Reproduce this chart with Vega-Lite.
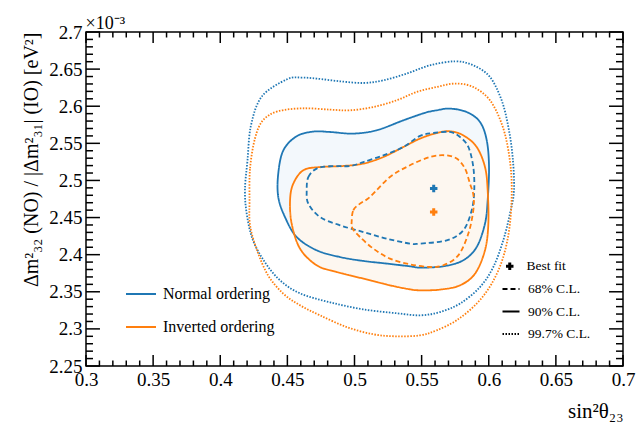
{
  "$schema": "https://vega.github.io/schema/vega-lite/v6.json",
  "width": 537,
  "height": 334,
  "autosize": {"type": "none"},
  "padding": {"left": 86, "top": 32, "right": 13, "bottom": 59},
  "config": {
    "view": {"stroke": "black", "strokeWidth": 1.5},
    "font": "Liberation Serif",
    "axis": {"grid": false, "domain": false, "ticks": false, "tickSize": 0, "labelColor": "black", "labelFont": "Liberation Serif", "titleFont": "Liberation Serif", "titleColor": "black", "titleFontWeight": "normal", "labelFlush": false, "labelOverlap": false, "labelBound": false},
    "legend": {"labelFont": "Liberation Serif", "labelColor": "black", "padding": 0}
  },
  "datasets": {
    "ticksX": [
      {"v": 0.3, "kind": "major"}, {"v": 0.35, "kind": "major"}, {"v": 0.4, "kind": "major"}, {"v": 0.45, "kind": "major"}, {"v": 0.5, "kind": "major"}, {"v": 0.55, "kind": "major"}, {"v": 0.6, "kind": "major"}, {"v": 0.65, "kind": "major"}, {"v": 0.7, "kind": "major"},
      {"v": 0.31, "kind": "minor"}, {"v": 0.32, "kind": "minor"}, {"v": 0.33, "kind": "minor"}, {"v": 0.34, "kind": "minor"},
      {"v": 0.36, "kind": "minor"}, {"v": 0.37, "kind": "minor"}, {"v": 0.38, "kind": "minor"}, {"v": 0.39, "kind": "minor"},
      {"v": 0.41, "kind": "minor"}, {"v": 0.42, "kind": "minor"}, {"v": 0.43, "kind": "minor"}, {"v": 0.44, "kind": "minor"},
      {"v": 0.46, "kind": "minor"}, {"v": 0.47, "kind": "minor"}, {"v": 0.48, "kind": "minor"}, {"v": 0.49, "kind": "minor"},
      {"v": 0.51, "kind": "minor"}, {"v": 0.52, "kind": "minor"}, {"v": 0.53, "kind": "minor"}, {"v": 0.54, "kind": "minor"},
      {"v": 0.56, "kind": "minor"}, {"v": 0.57, "kind": "minor"}, {"v": 0.58, "kind": "minor"}, {"v": 0.59, "kind": "minor"},
      {"v": 0.61, "kind": "minor"}, {"v": 0.62, "kind": "minor"}, {"v": 0.63, "kind": "minor"}, {"v": 0.64, "kind": "minor"},
      {"v": 0.66, "kind": "minor"}, {"v": 0.67, "kind": "minor"}, {"v": 0.68, "kind": "minor"}, {"v": 0.69, "kind": "minor"}
    ],
    "ticksY": [
      {"v": 2.25, "kind": "major"}, {"v": 2.3, "kind": "major"}, {"v": 2.35, "kind": "major"}, {"v": 2.4, "kind": "major"}, {"v": 2.45, "kind": "major"}, {"v": 2.5, "kind": "major"}, {"v": 2.55, "kind": "major"}, {"v": 2.6, "kind": "major"}, {"v": 2.65, "kind": "major"}, {"v": 2.7, "kind": "major"},
      {"v": 2.26, "kind": "minor"}, {"v": 2.27, "kind": "minor"}, {"v": 2.28, "kind": "minor"}, {"v": 2.29, "kind": "minor"},
      {"v": 2.31, "kind": "minor"}, {"v": 2.32, "kind": "minor"}, {"v": 2.33, "kind": "minor"}, {"v": 2.34, "kind": "minor"},
      {"v": 2.36, "kind": "minor"}, {"v": 2.37, "kind": "minor"}, {"v": 2.38, "kind": "minor"}, {"v": 2.39, "kind": "minor"},
      {"v": 2.41, "kind": "minor"}, {"v": 2.42, "kind": "minor"}, {"v": 2.43, "kind": "minor"}, {"v": 2.44, "kind": "minor"},
      {"v": 2.46, "kind": "minor"}, {"v": 2.47, "kind": "minor"}, {"v": 2.48, "kind": "minor"}, {"v": 2.49, "kind": "minor"},
      {"v": 2.51, "kind": "minor"}, {"v": 2.52, "kind": "minor"}, {"v": 2.53, "kind": "minor"}, {"v": 2.54, "kind": "minor"},
      {"v": 2.56, "kind": "minor"}, {"v": 2.57, "kind": "minor"}, {"v": 2.58, "kind": "minor"}, {"v": 2.59, "kind": "minor"},
      {"v": 2.61, "kind": "minor"}, {"v": 2.62, "kind": "minor"}, {"v": 2.63, "kind": "minor"}, {"v": 2.64, "kind": "minor"},
      {"v": 2.66, "kind": "minor"}, {"v": 2.67, "kind": "minor"}, {"v": 2.68, "kind": "minor"}, {"v": 2.69, "kind": "minor"}
    ],
    "info": [
      {"contour": "NO99", "ordering": "Normal ordering", "cl": "99.7% C.L."},
      {"contour": "IO99", "ordering": "Inverted ordering", "cl": "99.7% C.L."},
      {"contour": "NO90", "ordering": "Normal ordering", "cl": "90% C.L."},
      {"contour": "IO90", "ordering": "Inverted ordering", "cl": "90% C.L."},
      {"contour": "NO68", "ordering": "Normal ordering", "cl": "68% C.L."},
      {"contour": "IO68", "ordering": "Inverted ordering", "cl": "68% C.L."}
    ],
    "best": [
      {"ordering": "Normal ordering", "kind": "Best fit", "x": 0.559, "y": 2.489},
      {"ordering": "Inverted ordering", "kind": "Best fit", "x": 0.559, "y": 2.4575}
    ],
    "contours": [
      {"contour": "NO99", "i": 1, "x": 0.4184, "y": 2.4867},
      {"contour": "NO99", "i": 2, "x": 0.4203, "y": 2.5271},
      {"contour": "NO99", "i": 3, "x": 0.4229, "y": 2.5743},
      {"contour": "NO99", "i": 4, "x": 0.4311, "y": 2.6134},
      {"contour": "NO99", "i": 5, "x": 0.4497, "y": 2.6363},
      {"contour": "NO99", "i": 6, "x": 0.4607, "y": 2.6386},
      {"contour": "NO99", "i": 7, "x": 0.4718, "y": 2.6372},
      {"contour": "NO99", "i": 8, "x": 0.4892, "y": 2.6336},
      {"contour": "NO99", "i": 9, "x": 0.5066, "y": 2.6313},
      {"contour": "NO99", "i": 10, "x": 0.5215, "y": 2.6349},
      {"contour": "NO99", "i": 11, "x": 0.5389, "y": 2.644},
      {"contour": "NO99", "i": 12, "x": 0.5562, "y": 2.6551},
      {"contour": "NO99", "i": 13, "x": 0.5749, "y": 2.6605},
      {"contour": "NO99", "i": 14, "x": 0.5885, "y": 2.6551},
      {"contour": "NO99", "i": 15, "x": 0.6009, "y": 2.6394},
      {"contour": "NO99", "i": 16, "x": 0.6096, "y": 2.608},
      {"contour": "NO99", "i": 17, "x": 0.6146, "y": 2.572},
      {"contour": "NO99", "i": 18, "x": 0.6178, "y": 2.5316},
      {"contour": "NO99", "i": 19, "x": 0.6188, "y": 2.4867},
      {"contour": "NO99", "i": 20, "x": 0.6158, "y": 2.4553},
      {"contour": "NO99", "i": 21, "x": 0.6108, "y": 2.4193},
      {"contour": "NO99", "i": 22, "x": 0.6034, "y": 2.3834},
      {"contour": "NO99", "i": 23, "x": 0.5935, "y": 2.3564},
      {"contour": "NO99", "i": 24, "x": 0.5786, "y": 2.3341},
      {"contour": "NO99", "i": 25, "x": 0.5637, "y": 2.3227},
      {"contour": "NO99", "i": 26, "x": 0.5488, "y": 2.3183},
      {"contour": "NO99", "i": 27, "x": 0.5317, "y": 2.321},
      {"contour": "NO99", "i": 28, "x": 0.5063, "y": 2.3264},
      {"contour": "NO99", "i": 29, "x": 0.4818, "y": 2.3358},
      {"contour": "NO99", "i": 30, "x": 0.4594, "y": 2.3479},
      {"contour": "NO99", "i": 31, "x": 0.4445, "y": 2.3655},
      {"contour": "NO99", "i": 32, "x": 0.4333, "y": 2.3897},
      {"contour": "NO99", "i": 33, "x": 0.4244, "y": 2.4193},
      {"contour": "NO99", "i": 34, "x": 0.4199, "y": 2.453},
      {"contour": "IO99", "i": 1, "x": 0.4218, "y": 2.4732},
      {"contour": "IO99", "i": 2, "x": 0.4222, "y": 2.5164},
      {"contour": "IO99", "i": 3, "x": 0.4259, "y": 2.5568},
      {"contour": "IO99", "i": 4, "x": 0.4318, "y": 2.581},
      {"contour": "IO99", "i": 5, "x": 0.443, "y": 2.5932},
      {"contour": "IO99", "i": 6, "x": 0.4616, "y": 2.5972},
      {"contour": "IO99", "i": 7, "x": 0.4818, "y": 2.5954},
      {"contour": "IO99", "i": 8, "x": 0.4966, "y": 2.5945},
      {"contour": "IO99", "i": 9, "x": 0.514, "y": 2.5989},
      {"contour": "IO99", "i": 10, "x": 0.5314, "y": 2.608},
      {"contour": "IO99", "i": 11, "x": 0.5463, "y": 2.6192},
      {"contour": "IO99", "i": 12, "x": 0.5612, "y": 2.6259},
      {"contour": "IO99", "i": 13, "x": 0.5749, "y": 2.6305},
      {"contour": "IO99", "i": 14, "x": 0.5885, "y": 2.6259},
      {"contour": "IO99", "i": 15, "x": 0.6009, "y": 2.608},
      {"contour": "IO99", "i": 16, "x": 0.6096, "y": 2.5766},
      {"contour": "IO99", "i": 17, "x": 0.6146, "y": 2.5406},
      {"contour": "IO99", "i": 18, "x": 0.6171, "y": 2.4957},
      {"contour": "IO99", "i": 19, "x": 0.6158, "y": 2.4418},
      {"contour": "IO99", "i": 20, "x": 0.6108, "y": 2.3968},
      {"contour": "IO99", "i": 21, "x": 0.6022, "y": 2.361},
      {"contour": "IO99", "i": 22, "x": 0.591, "y": 2.3341},
      {"contour": "IO99", "i": 23, "x": 0.5761, "y": 2.3116},
      {"contour": "IO99", "i": 24, "x": 0.5612, "y": 2.2981},
      {"contour": "IO99", "i": 25, "x": 0.5488, "y": 2.2913},
      {"contour": "IO99", "i": 26, "x": 0.5314, "y": 2.29},
      {"contour": "IO99", "i": 27, "x": 0.514, "y": 2.2927},
      {"contour": "IO99", "i": 28, "x": 0.4942, "y": 2.3025},
      {"contour": "IO99", "i": 29, "x": 0.4743, "y": 2.3183},
      {"contour": "IO99", "i": 30, "x": 0.4594, "y": 2.3318},
      {"contour": "IO99", "i": 31, "x": 0.4467, "y": 2.3479},
      {"contour": "IO99", "i": 32, "x": 0.4356, "y": 2.3722},
      {"contour": "IO99", "i": 33, "x": 0.4274, "y": 2.4059},
      {"contour": "IO99", "i": 34, "x": 0.4222, "y": 2.4396},
      {"contour": "NO90", "i": 1, "x": 0.4432, "y": 2.4777},
      {"contour": "NO90", "i": 2, "x": 0.4432, "y": 2.5092},
      {"contour": "NO90", "i": 3, "x": 0.447, "y": 2.5406},
      {"contour": "NO90", "i": 4, "x": 0.4569, "y": 2.5595},
      {"contour": "NO90", "i": 5, "x": 0.4693, "y": 2.5658},
      {"contour": "NO90", "i": 6, "x": 0.4818, "y": 2.5653},
      {"contour": "NO90", "i": 7, "x": 0.4991, "y": 2.5631},
      {"contour": "NO90", "i": 8, "x": 0.5165, "y": 2.5676},
      {"contour": "NO90", "i": 9, "x": 0.5364, "y": 2.581},
      {"contour": "NO90", "i": 10, "x": 0.5525, "y": 2.5911},
      {"contour": "NO90", "i": 11, "x": 0.5612, "y": 2.5945},
      {"contour": "NO90", "i": 12, "x": 0.5711, "y": 2.5968},
      {"contour": "NO90", "i": 13, "x": 0.5836, "y": 2.5922},
      {"contour": "NO90", "i": 14, "x": 0.5935, "y": 2.5787},
      {"contour": "NO90", "i": 15, "x": 0.5985, "y": 2.5541},
      {"contour": "NO90", "i": 16, "x": 0.6002, "y": 2.5181},
      {"contour": "NO90", "i": 17, "x": 0.5992, "y": 2.4732},
      {"contour": "NO90", "i": 18, "x": 0.5972, "y": 2.4418},
      {"contour": "NO90", "i": 19, "x": 0.591, "y": 2.4103},
      {"contour": "NO90", "i": 20, "x": 0.581, "y": 2.3924},
      {"contour": "NO90", "i": 21, "x": 0.5661, "y": 2.3843},
      {"contour": "NO90", "i": 22, "x": 0.5488, "y": 2.3826},
      {"contour": "NO90", "i": 23, "x": 0.5413, "y": 2.3843},
      {"contour": "NO90", "i": 24, "x": 0.524, "y": 2.388},
      {"contour": "NO90", "i": 25, "x": 0.5066, "y": 2.3915},
      {"contour": "NO90", "i": 26, "x": 0.4892, "y": 2.3968},
      {"contour": "NO90", "i": 27, "x": 0.4718, "y": 2.4059},
      {"contour": "NO90", "i": 28, "x": 0.4569, "y": 2.4238},
      {"contour": "NO90", "i": 29, "x": 0.4482, "y": 2.4507},
      {"contour": "IO90", "i": 1, "x": 0.452, "y": 2.4732},
      {"contour": "IO90", "i": 2, "x": 0.4544, "y": 2.4957},
      {"contour": "IO90", "i": 3, "x": 0.4619, "y": 2.5137},
      {"contour": "IO90", "i": 4, "x": 0.4743, "y": 2.5181},
      {"contour": "IO90", "i": 5, "x": 0.4917, "y": 2.5195},
      {"contour": "IO90", "i": 6, "x": 0.5066, "y": 2.5227},
      {"contour": "IO90", "i": 7, "x": 0.5215, "y": 2.5316},
      {"contour": "IO90", "i": 8, "x": 0.5364, "y": 2.5451},
      {"contour": "IO90", "i": 9, "x": 0.5488, "y": 2.5564},
      {"contour": "IO90", "i": 10, "x": 0.5612, "y": 2.5639},
      {"contour": "IO90", "i": 11, "x": 0.5711, "y": 2.5662},
      {"contour": "IO90", "i": 12, "x": 0.581, "y": 2.5608},
      {"contour": "IO90", "i": 13, "x": 0.591, "y": 2.5451},
      {"contour": "IO90", "i": 14, "x": 0.5972, "y": 2.5181},
      {"contour": "IO90", "i": 15, "x": 0.5992, "y": 2.4867},
      {"contour": "IO90", "i": 16, "x": 0.5997, "y": 2.4418},
      {"contour": "IO90", "i": 17, "x": 0.5972, "y": 2.4059},
      {"contour": "IO90", "i": 18, "x": 0.5898, "y": 2.3745},
      {"contour": "IO90", "i": 19, "x": 0.5786, "y": 2.3587},
      {"contour": "IO90", "i": 20, "x": 0.5637, "y": 2.3529},
      {"contour": "IO90", "i": 21, "x": 0.5488, "y": 2.352},
      {"contour": "IO90", "i": 22, "x": 0.5413, "y": 2.3533},
      {"contour": "IO90", "i": 23, "x": 0.5264, "y": 2.3587},
      {"contour": "IO90", "i": 24, "x": 0.5066, "y": 2.3677},
      {"contour": "IO90", "i": 25, "x": 0.4867, "y": 2.3766},
      {"contour": "IO90", "i": 26, "x": 0.4718, "y": 2.3857},
      {"contour": "IO90", "i": 27, "x": 0.4594, "y": 2.4082},
      {"contour": "IO90", "i": 28, "x": 0.4532, "y": 2.4418},
      {"contour": "NO68", "i": 1, "x": 0.4644, "y": 2.4867},
      {"contour": "NO68", "i": 2, "x": 0.4656, "y": 2.5046},
      {"contour": "NO68", "i": 3, "x": 0.4718, "y": 2.516},
      {"contour": "NO68", "i": 4, "x": 0.4818, "y": 2.5191},
      {"contour": "NO68", "i": 5, "x": 0.4966, "y": 2.5195},
      {"contour": "NO68", "i": 6, "x": 0.5066, "y": 2.5248},
      {"contour": "NO68", "i": 7, "x": 0.5215, "y": 2.5339},
      {"contour": "NO68", "i": 8, "x": 0.5364, "y": 2.5451},
      {"contour": "NO68", "i": 9, "x": 0.5488, "y": 2.5601},
      {"contour": "NO68", "i": 10, "x": 0.5587, "y": 2.5639},
      {"contour": "NO68", "i": 11, "x": 0.5711, "y": 2.5653},
      {"contour": "NO68", "i": 12, "x": 0.5786, "y": 2.5585},
      {"contour": "NO68", "i": 13, "x": 0.5848, "y": 2.5451},
      {"contour": "NO68", "i": 14, "x": 0.5885, "y": 2.5181},
      {"contour": "NO68", "i": 15, "x": 0.5892, "y": 2.4867},
      {"contour": "NO68", "i": 16, "x": 0.5873, "y": 2.4598},
      {"contour": "NO68", "i": 17, "x": 0.581, "y": 2.4328},
      {"contour": "NO68", "i": 18, "x": 0.5687, "y": 2.4193},
      {"contour": "NO68", "i": 19, "x": 0.5488, "y": 2.4149},
      {"contour": "NO68", "i": 20, "x": 0.5413, "y": 2.4149},
      {"contour": "NO68", "i": 21, "x": 0.524, "y": 2.4216},
      {"contour": "NO68", "i": 22, "x": 0.5066, "y": 2.4305},
      {"contour": "NO68", "i": 23, "x": 0.4892, "y": 2.4396},
      {"contour": "NO68", "i": 24, "x": 0.4743, "y": 2.4507},
      {"contour": "NO68", "i": 25, "x": 0.4656, "y": 2.4688},
      {"contour": "IO68", "i": 1, "x": 0.4979, "y": 2.4449},
      {"contour": "IO68", "i": 2, "x": 0.4991, "y": 2.4598},
      {"contour": "IO68", "i": 3, "x": 0.5041, "y": 2.4688},
      {"contour": "IO68", "i": 4, "x": 0.5115, "y": 2.4777},
      {"contour": "IO68", "i": 5, "x": 0.5264, "y": 2.5046},
      {"contour": "IO68", "i": 6, "x": 0.5413, "y": 2.5204},
      {"contour": "IO68", "i": 7, "x": 0.5562, "y": 2.5316},
      {"contour": "IO68", "i": 8, "x": 0.5674, "y": 2.5339},
      {"contour": "IO68", "i": 9, "x": 0.5761, "y": 2.5294},
      {"contour": "IO68", "i": 10, "x": 0.5823, "y": 2.516},
      {"contour": "IO68", "i": 11, "x": 0.586, "y": 2.4957},
      {"contour": "IO68", "i": 12, "x": 0.5886, "y": 2.48},
      {"contour": "IO68", "i": 13, "x": 0.5885, "y": 2.4598},
      {"contour": "IO68", "i": 14, "x": 0.5848, "y": 2.4284},
      {"contour": "IO68", "i": 15, "x": 0.5773, "y": 2.3991},
      {"contour": "IO68", "i": 16, "x": 0.5661, "y": 2.3857},
      {"contour": "IO68", "i": 17, "x": 0.5562, "y": 2.3834},
      {"contour": "IO68", "i": 18, "x": 0.5413, "y": 2.387},
      {"contour": "IO68", "i": 19, "x": 0.5264, "y": 2.3947},
      {"contour": "IO68", "i": 20, "x": 0.514, "y": 2.4082},
      {"contour": "IO68", "i": 21, "x": 0.5041, "y": 2.4238},
      {"contour": "IO68", "i": 22, "x": 0.4985, "y": 2.4355}
    ]
  },
  "layer": [
    {
      "data": {"name": "contours"},
      "transform": [{"filter": "datum.contour == 'NO90'"}],
      "mark": {"type": "line", "interpolate": "cardinal-closed", "fill": "#f3f8fc", "strokeOpacity": 0},
      "encoding": {
        "x": {"field": "x", "type": "quantitative", "scale": {"domain": [0.3, 0.7], "nice": false, "zero": false},
          "axis": {"orient": "bottom", "values": [0.3, 0.35, 0.4, 0.45, 0.5, 0.55, 0.6, 0.65, 0.7], "format": ".2~f", "labelPadding": 4, "labelFontSize": 19,
            "title": "sin²θ₂₃", "titleFontSize": 21, "titleAnchor": "end", "titleAlign": "right", "titleBaseline": "alphabetic", "titleX": 537, "titleY": 51}},
        "y": {"field": "y", "type": "quantitative", "scale": {"domain": [2.25, 2.7], "nice": false, "zero": false},
          "axis": {"orient": "left", "values": [2.25, 2.3, 2.35, 2.4, 2.45, 2.5, 2.55, 2.6, 2.65, 2.7], "format": ".3~f", "labelPadding": 4, "labelFontSize": 19,
            "title": "Δm²₃₂ (NO) / |Δm²₃₁| (IO) [eV²]", "titleFontSize": 20, "titleAngle": -90, "titleAnchor": "end", "titleAlign": "right", "titleBaseline": "alphabetic", "titleX": -49, "titleY": 0}},
        "order": {"field": "i", "type": "quantitative"}
      }
    },
    {
      "data": {"name": "contours"},
      "transform": [{"filter": "datum.contour == 'IO90'"}],
      "mark": {"type": "line", "interpolate": "cardinal-closed", "fill": "#fdf7f0", "strokeOpacity": 0},
      "encoding": {
        "x": {"field": "x", "type": "quantitative", "scale": {"domain": [0.3, 0.7], "nice": false, "zero": false},
          "axis": {"orient": "top", "values": [0.3], "labels": false,
            "title": "×10⁻³", "titleFontSize": 18, "titleAnchor": "start", "titleAlign": "left", "titleBaseline": "alphabetic", "titleX": -1, "titleY": -4}},
        "y": {"field": "y", "type": "quantitative", "scale": {"domain": [2.25, 2.7], "nice": false, "zero": false}, "axis": null},
        "order": {"field": "i", "type": "quantitative"}
      }
    },
    {
      "data": {"name": "ticksX"},
      "transform": [{"filter": "datum.kind == 'major'"}],
      "mark": {"type": "rule", "color": "black", "strokeWidth": 1.5},
      "encoding": {
        "x": {"field": "v", "type": "quantitative", "scale": {"domain": [0.3, 0.7], "nice": false, "zero": false}, "axis": null},
        "y": {"datum": 2.25, "type": "quantitative", "scale": {"domain": [2.25, 2.7], "nice": false, "zero": false}, "axis": null},
        "y2": {"datum": 2.2648}
      }
    },
    {
      "data": {"name": "ticksX"},
      "transform": [{"filter": "datum.kind == 'minor'"}],
      "mark": {"type": "rule", "color": "black", "strokeWidth": 1.5},
      "encoding": {
        "x": {"field": "v", "type": "quantitative", "scale": {"domain": [0.3, 0.7], "nice": false, "zero": false}, "axis": null},
        "y": {"datum": 2.25, "type": "quantitative", "scale": {"domain": [2.25, 2.7], "nice": false, "zero": false}, "axis": null},
        "y2": {"datum": 2.2574}
      }
    },
    {
      "data": {"name": "ticksX"},
      "transform": [{"filter": "datum.kind == 'major'"}],
      "mark": {"type": "rule", "color": "black", "strokeWidth": 1.5},
      "encoding": {
        "x": {"field": "v", "type": "quantitative", "scale": {"domain": [0.3, 0.7], "nice": false, "zero": false}, "axis": null},
        "y": {"datum": 2.7, "type": "quantitative", "scale": {"domain": [2.25, 2.7], "nice": false, "zero": false}, "axis": null},
        "y2": {"datum": 2.6852}
      }
    },
    {
      "data": {"name": "ticksX"},
      "transform": [{"filter": "datum.kind == 'minor'"}],
      "mark": {"type": "rule", "color": "black", "strokeWidth": 1.5},
      "encoding": {
        "x": {"field": "v", "type": "quantitative", "scale": {"domain": [0.3, 0.7], "nice": false, "zero": false}, "axis": null},
        "y": {"datum": 2.7, "type": "quantitative", "scale": {"domain": [2.25, 2.7], "nice": false, "zero": false}, "axis": null},
        "y2": {"datum": 2.6926}
      }
    },
    {
      "data": {"name": "ticksY"},
      "transform": [{"filter": "datum.kind == 'major'"}],
      "mark": {"type": "rule", "color": "black", "strokeWidth": 1.5},
      "encoding": {
        "y": {"field": "v", "type": "quantitative", "scale": {"domain": [2.25, 2.7], "nice": false, "zero": false}, "axis": null},
        "x": {"datum": 0.3, "type": "quantitative", "scale": {"domain": [0.3, 0.7], "nice": false, "zero": false}, "axis": null},
        "x2": {"datum": 0.3104}
      }
    },
    {
      "data": {"name": "ticksY"},
      "transform": [{"filter": "datum.kind == 'minor'"}],
      "mark": {"type": "rule", "color": "black", "strokeWidth": 1.5},
      "encoding": {
        "y": {"field": "v", "type": "quantitative", "scale": {"domain": [2.25, 2.7], "nice": false, "zero": false}, "axis": null},
        "x": {"datum": 0.3, "type": "quantitative", "scale": {"domain": [0.3, 0.7], "nice": false, "zero": false}, "axis": null},
        "x2": {"datum": 0.3052}
      }
    },
    {
      "data": {"name": "ticksY"},
      "transform": [{"filter": "datum.kind == 'major'"}],
      "mark": {"type": "rule", "color": "black", "strokeWidth": 1.5},
      "encoding": {
        "y": {"field": "v", "type": "quantitative", "scale": {"domain": [2.25, 2.7], "nice": false, "zero": false}, "axis": null},
        "x": {"datum": 0.7, "type": "quantitative", "scale": {"domain": [0.3, 0.7], "nice": false, "zero": false}, "axis": null},
        "x2": {"datum": 0.6896}
      }
    },
    {
      "data": {"name": "ticksY"},
      "transform": [{"filter": "datum.kind == 'minor'"}],
      "mark": {"type": "rule", "color": "black", "strokeWidth": 1.5},
      "encoding": {
        "y": {"field": "v", "type": "quantitative", "scale": {"domain": [2.25, 2.7], "nice": false, "zero": false}, "axis": null},
        "x": {"datum": 0.7, "type": "quantitative", "scale": {"domain": [0.3, 0.7], "nice": false, "zero": false}, "axis": null},
        "x2": {"datum": 0.6948}
      }
    },
    {
      "data": {"name": "contours"},
      "transform": [{"lookup": "contour", "from": {"data": {"name": "info"}, "key": "contour", "fields": ["ordering", "cl"]}}],
      "mark": {"type": "line", "interpolate": "cardinal-closed", "strokeWidth": 1.8},
      "encoding": {
        "x": {"field": "x", "type": "quantitative", "scale": {"domain": [0.3, 0.7], "nice": false, "zero": false}, "axis": null},
        "y": {"field": "y", "type": "quantitative", "scale": {"domain": [2.25, 2.7], "nice": false, "zero": false}, "axis": null},
        "color": {"field": "ordering", "type": "nominal", "scale": {"domain": ["Normal ordering", "Inverted ordering"], "range": ["#1f77b4", "#ff7f0e"]},
          "legend": {"orient": "none", "legendX": 39, "legendY": 246, "title": null, "symbolType": "stroke", "symbolSize": 900, "symbolStrokeWidth": 2, "labelFont": "Liberation Serif", "labelFontSize": 16, "labelOffset": 6, "rowPadding": 9}},
        "strokeDash": {"field": "cl", "type": "nominal", "scale": {"domain": ["68% C.L.", "90% C.L.", "99.7% C.L."], "range": [[5, 3], [1, 0], [1.5, 1.5]]},
          "legend": {"orient": "none", "legendX": 415.5, "legendY": 247.5, "title": null, "symbolType": "stroke", "symbolSize": 289, "symbolStrokeWidth": 1.8, "symbolStrokeColor": "black", "labelFont": "Liberation Serif", "labelFontSize": 13.5, "labelOffset": 7.5, "rowPadding": 6.5}},
        "detail": {"field": "contour", "type": "nominal"},
        "order": {"field": "i", "type": "quantitative"}
      }
    },
    {
      "data": {"name": "best"},
      "mark": {"type": "point", "shape": "cross", "filled": true, "size": 56, "strokeWidth": 0, "opacity": 1},
      "encoding": {
        "x": {"field": "x", "type": "quantitative", "scale": {"domain": [0.3, 0.7], "nice": false, "zero": false}, "axis": null},
        "y": {"field": "y", "type": "quantitative", "scale": {"domain": [2.25, 2.7], "nice": false, "zero": false}, "axis": null},
        "fill": {"field": "ordering", "type": "nominal", "scale": {"domain": ["Normal ordering", "Inverted ordering"], "range": ["#1f77b4", "#ff7f0e"]}, "legend": null},
        "shape": {"field": "kind", "type": "nominal", "scale": {"domain": ["Best fit"], "range": ["cross"]},
          "legend": {"orient": "none", "legendX": 417, "legendY": 227.5, "title": null, "symbolSize": 56, "symbolFillColor": "black", "symbolStrokeColor": "black", "symbolStrokeWidth": 0, "labelFont": "Liberation Serif", "labelFontSize": 13.5, "labelOffset": 10}}
      }
    }
  ],
  "resolve": {"axis": {"x": "independent", "y": "independent"}}
}
